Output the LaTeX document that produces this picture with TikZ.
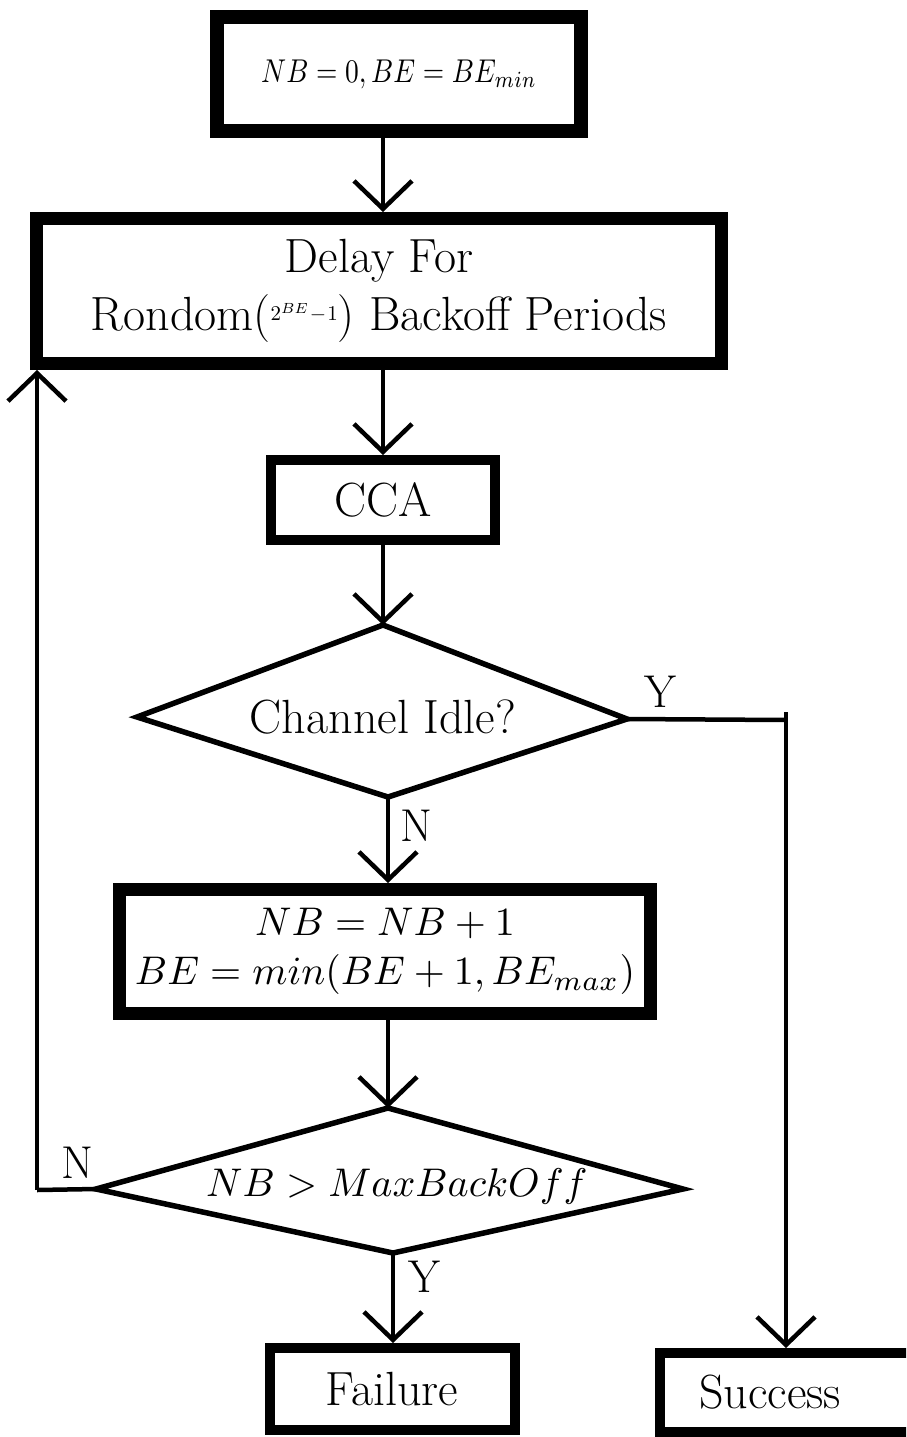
\documentclass[tikz,border=0pt]{standalone}
\usepackage{graphicx}
\usetikzlibrary{arrows.meta,calc}
\newcommand{\scaledmath}[2]{\scalebox{#1}{\fontsize{10}{12}\selectfont$#2$}}
\begin{document}
\begin{tikzpicture}[x=1pt,y=-1pt,
  font=\fontsize{48}{58}\selectfont,
  box/.style={draw, inner sep=0pt, align=center},
  arr/.style={line width=4.5pt, -{Straight Barb[length=28pt,width=58pt,line width=4.5pt]}},
  link/.style={line width=4.5pt},
  dia/.style={line width=5.5pt, line join=miter},
  lbl/.style={font=\fontsize{46}{50}\selectfont, inner sep=0pt}]
\useasboundingbox (0,0) rectangle (906,1437);
\clip (0,0) rectangle (906,1437);
\fill[white] (0,0) rectangle (906,1437);

% boxes
\node[box, line width=14pt, minimum width=364pt, minimum height=114pt] (b1) at (399,74)
  {\scalebox{2.75}[3.3]{\fontsize{10}{12}\selectfont$NB=0, BE=BE_{min}$}};
\node[box, line width=13pt, minimum width=685pt, minimum height=145pt] (b2) at (379,291)
  {Delay For\\Rondom(\raisebox{10pt}{\scaledmath{2.1}{2^{BE}\!-\!1}}) Backoff Periods};
\node[box, line width=10pt, minimum width=224pt, minimum height=80pt] (cca) at (383,500) {CCA};
\node[box, line width=13pt, minimum width=531pt, minimum height=124pt,
      font=\fontsize{42}{49}\selectfont] (b3) at (385,951.5)
  {\scaledmath{4.0}{NB=NB+1}\\\scaledmath{4.0}{BE=min(BE+1,BE_{max})}};
\node[box, line width=10pt, minimum width=245pt, minimum height=82pt] (fail) at (392,1389) {Failure};
\node[draw, inner sep=0pt, line width=10pt, minimum width=260pt, minimum height=79pt] (succ) at (790,1392.5) {Success\hspace*{40pt}};

% decision 1
\coordinate (d1t) at (383,625);
\coordinate (d1l) at (137,717);
\coordinate (d1r) at (627,719);
\coordinate (d1b) at (388,797);
\draw[dia] (d1t) -- (d1r) -- (d1b) -- (d1l) -- cycle;
\node (d1) at (383,717) {Channel Idle?};

% decision 2
\coordinate (d2t) at (388,1108);
\coordinate (d2l) at (96,1189);
\coordinate (d2r) at (683,1189);
\coordinate (d2b) at (393,1253);
\draw[dia] (d2t) -- (d2r) -- (d2b) -- (d2l) -- cycle;
\node (d2) at (397,1186) {\scaledmath{4.0}{NB>MaxBackOff}};

% corner points
\coordinate (yc) at (786,720);
\coordinate (ytop) at (786,712);
\coordinate (nc) at (37,1190);

% connectors
\draw[arr] (b1.south -| cca) -- (b2.north -| cca);
\draw[arr] (b2.south -| cca) -- (cca.north);
\draw[arr] (cca.south) -- (d1t);
\draw[arr] (d1b) -- (b3.north -| d1b);
\draw[arr] (b3.south -| d2t) -- (d2t);
\draw[arr] (d2b) -- (fail.north -| d2b);
\draw[link] (d1r) -- (yc);
\draw[arr] (ytop) -- (succ.north -| ytop);
\draw[link] (d2l) -- (nc);
\draw[arr] (nc) -- (b2.south -| nc);

% labels
\node[lbl] (ly1) at (660,692) {Y};
\node[lbl] (ln1) at (416,826) {N};
\node[lbl] (ln2) at (77,1163) {N};
\node[lbl] (ly2) at (424,1277) {Y};
\end{tikzpicture}
\end{document}
